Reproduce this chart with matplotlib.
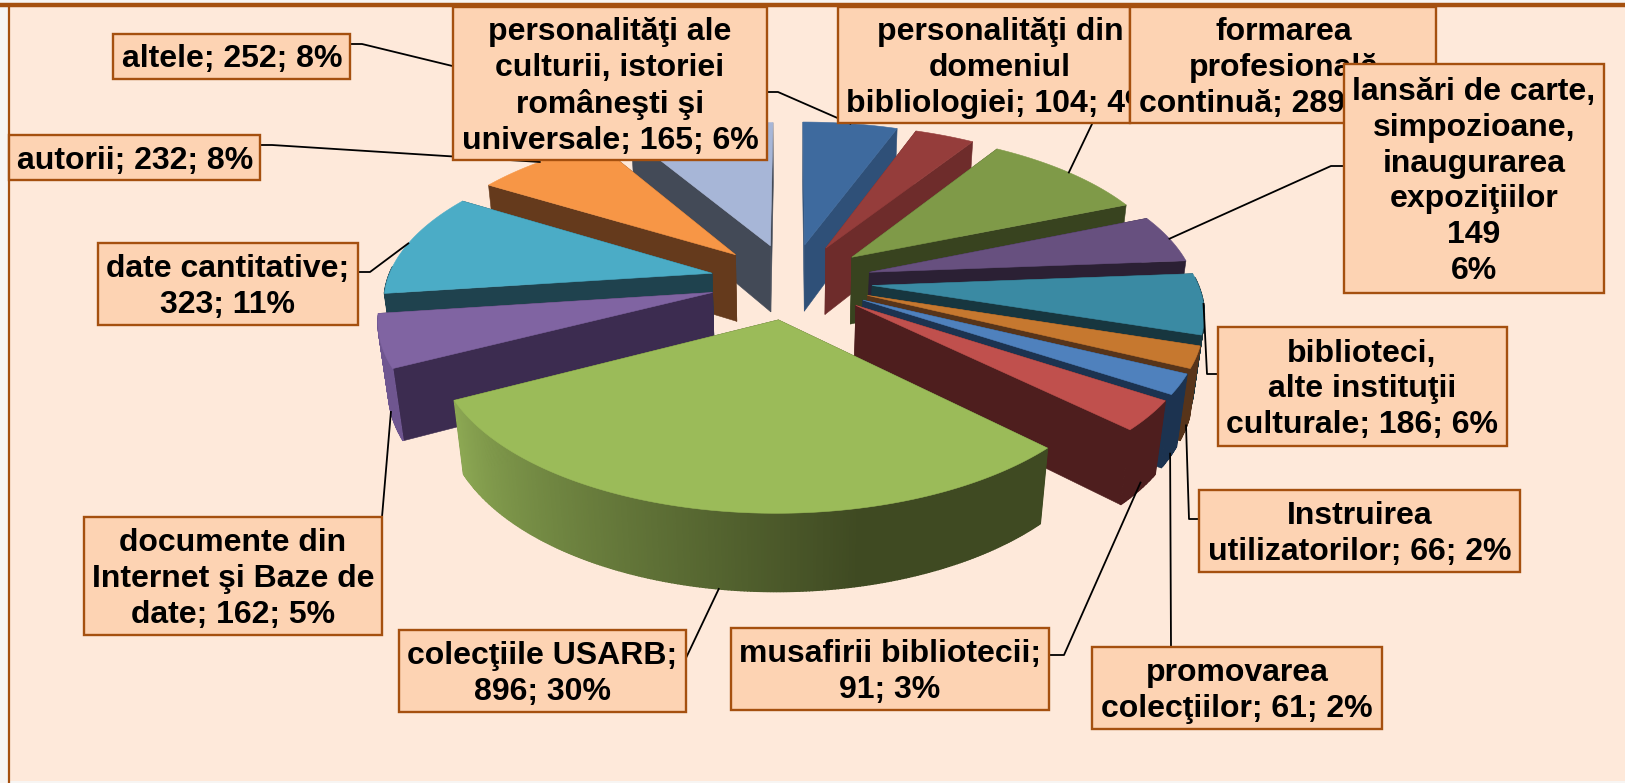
import numpy as np
import matplotlib
matplotlib.use("Agg")
import matplotlib.pyplot as plt
from matplotlib.patches import Polygon, Rectangle
from matplotlib.colors import to_rgb

plt.rcParams['font.family'] = ['Liberation Sans', 'DejaVu Sans']

# slices, clockwise from 12 o'clock
categories = ["personalităţi ale culturii", "personalităţi din domeniul", "formarea profesională",
              "lansări", "biblioteci", "Instruirea", "promovarea", "musafirii",
              "colecţiile USARB", "documente din Internet", "date cantitative", "autorii", "altele"]
values = [165, 104, 289, 149, 186, 66, 61, 91, 896, 162, 323, 232, 252]
top_colors = ["#3E6A9E", "#953D3B", "#7F9A48", "#67507F", "#3A8AA3", "#C6782F", "#4F81BD",
              "#C0504D", "#9BBB59", "#8064A2", "#4BACC6", "#F79646", "#A7B6D7"]
cut_colors = ["#2F5078", "#6E2C2B", "#38431F", "#2B2034", "#17363F", "#57341A", "#1C3350",
              "#4E1E1E", "#3F4A22", "#3C2C50", "#1F424E", "#653A1C", "#434A57"]
rim_light = ["#2F5078", "#6E2C2B", "#38431F", "#2B2034", "#17363F", "#57341A", "#1C3350",
             "#4E1E1E", "#8CA853", "#6F5690", "#1F424E", "#653A1C", "#434A57"]

# label boxes: text, x0, y0, x1, y1, text centre x, in stacking order
labels = ["altele; 252; 8%", "autorii; 232; 8%", "date cantitative;\n323; 11%",
          "documente din\nInternet şi Baze de\ndate; 162; 5%", "colecţiile USARB;\n896; 30%",
          "musafirii bibliotecii;\n91; 3%", "promovarea\ncolecţiilor; 61; 2%",
          "Instruirea\nutilizatorilor; 66; 2%", "biblioteci,\nalte instituţii\nculturale; 186; 6%",
          "personalităţi ale\nculturii, istoriei\nromâneşti şi\nuniversale; 165; 6%",
          "personalităţi din\ndomeniul\nbibliologiei; 104; 4%",
          "formarea\nprofesională\ncontinuă; 289; 10%",
          "lansări de carte,\nsimpozioane,\ninaugurarea\nexpoziţiilor\n149\n6%"]
boxes = [(113, 34, 350, 79), (9, 135, 260, 180), (98, 243, 358, 325), (84, 517, 382, 635),
         (399, 630, 686, 712), (731, 628, 1049, 710), (1092, 647, 1382, 729), (1199, 490, 1520, 572),
         (1218, 327, 1507, 446), (453, 7, 767, 160), (838, 7, 1130, 123), (1130, 7, 1436, 123),
         (1344, 64, 1604, 293)]
text_x = [232, 135, 228, 233, 542, 890, 1237, 1360, 1362, 610, 1000, 1284, 1474]

# leaders: slice index, height on the slice (0 top, 1 bottom), box end + elbow
leaders = [(12, 0, [(350, 44), (362, 44)]), (11, 0, [(260, 145), (272, 145)]),
           (10, 0, [(358, 272), (370, 272)]), (9, 1, [(382, 517)]), (8, 1, [(686, 658)]),
           (7, 0.9, [(1049, 655), (1064, 655)]), (6, 0.95, [(1171, 647)]),
           (5, 0.95, [(1199, 519), (1189, 519)]), (4, 0, [(1218, 374), (1207, 374)]),
           (0, 0, [(767, 92), (778, 92)]), (2, 0, [(1092, 124)]), (3, 0, [(1344, 166), (1331, 166)])]

# pie projection
CX, CY_TOP, CY_BOT = 791, 281, 349
SCALE, PERSP, PERSP_Z = 325, 0.15, 0.025
TILT_TOP, TILT_BOT = 151.4, 163
EXPLODE = 0.25

fracs = np.array(values) / sum(values)
starts = np.concatenate([[0], np.cumsum(fracs)[:-1]]) * 2 * np.pi
ends = np.cumsum(fracs) * 2 * np.pi
mids = (starts + ends) / 2


def project(theta, mid, radius, z):
    X = EXPLODE * np.sin(mid) + radius * np.sin(theta)
    Y = EXPLODE * np.cos(mid) + radius * np.cos(theta)
    k = 1 / (1 + PERSP * Y + PERSP_Z * z)
    x = CX + SCALE * X * k
    y = CY_TOP + (CY_BOT - CY_TOP) * z - (TILT_TOP + (TILT_BOT - TILT_TOP) * z) * Y * k
    return x, y


def lerp(c1, c2, t):
    a, b = np.array(to_rgb(c1)), np.array(to_rgb(c2))
    return tuple(a + (b - a) * t)


fig = plt.figure(figsize=(16.25, 7.83), dpi=100, facecolor="#F7F5F3")
ax = fig.add_axes([0, 0, 1, 1])
ax.set_xlim(0, 1625)
ax.set_ylim(783, 0)
ax.axis("off")

# chart area and its frame
ax.add_patch(Rectangle((9, 6), 1616, 775, fc="#FEE9DA", ec="none", zorder=0))
ax.plot([0, 1625], [5, 5], color="#A5500F", lw=3.2, zorder=1, solid_capstyle="butt")
ax.plot([9, 9], [5, 783], color="#A5500F", lw=1.6, zorder=1, solid_capstyle="butt")

# back slices first so nearer ones cover their hidden parts
order = np.argsort(-np.cos(mids))
z = 2.0
for i in order:
    s, e, m = starts[i], ends[i], mids[i]
    # flat cut faces, the one further back goes first
    faces = sorted([s, e], key=lambda a: -np.cos(a))
    for a in faces:
        x0, y0 = project(0.0, m, 0.0, 0)
        x1, y1 = project(0.0, m, 0.0, 1)
        x2, y2 = project(a, m, 1.0, 1)
        x3, y3 = project(a, m, 1.0, 0)
        ax.add_patch(Polygon([(x0, y0), (x1, y1), (x2, y2), (x3, y3)], closed=True,
                             fc=cut_colors[i], ec=cut_colors[i], lw=0.4, zorder=z))
        z += 0.001
    # outer rim, front-facing part only
    thetas = np.linspace(s, e, max(3, int((e - s) * 120)))
    for t0, t1 in zip(thetas[:-1], thetas[1:]):
        if np.cos((t0 + t1) / 2) > 0.05:
            continue
        xa, ya = project(t0, m, 1.0, 0)
        xb, yb = project(t1, m, 1.0, 0)
        xc, yc = project(t1, m, 1.0, 1)
        xd, yd = project(t0, m, 1.0, 1)
        shade = np.clip((np.radians(243) - (t0 + t1) / 2) / np.radians(75), 0, 1)
        col = lerp(rim_light[i], cut_colors[i], shade)
        ax.add_patch(Polygon([(xa, ya), (xb, yb), (xc, yc), (xd, yd)], closed=True,
                             fc=col, ec=col, lw=1.0, zorder=z))
        z += 0.001
    # top face
    xs, ys = project(thetas, m, 1.0, 0)
    xa, ya = project(0.0, m, 0.0, 0)
    ax.add_patch(Polygon(np.column_stack([np.r_[xa, xs], np.r_[ya, ys]]), closed=True,
                         fc=top_colors[i], ec=top_colors[i], lw=0.4, zorder=z))
    z += 0.001

# leader lines, ending on the middle of each slice
for idx, height, pts in leaders:
    xe, ye = project(mids[idx], mids[idx], 1.0, height)
    px = [p[0] for p in pts] + [xe]
    py = [p[1] for p in pts] + [ye]
    ax.plot(px, py, color="black", lw=1.3, zorder=50)

# label boxes; later ones overlap earlier ones
for n, (txt, b, tx) in enumerate(zip(labels, boxes, text_x)):
    ax.add_patch(Rectangle((b[0], b[1]), b[2] - b[0], b[3] - b[1], fc="#FDD3B3", ec="#A5500F",
                           lw=1.7, zorder=60 + n))
    ax.text(tx, (b[1] + b[3]) / 2 + 3, txt, ha="center", va="center", fontsize=23,
            fontweight="bold", color="black", linespacing=1.25, zorder=60.5 + n)

fig.savefig("out.png", dpi=100, facecolor=fig.get_facecolor())
